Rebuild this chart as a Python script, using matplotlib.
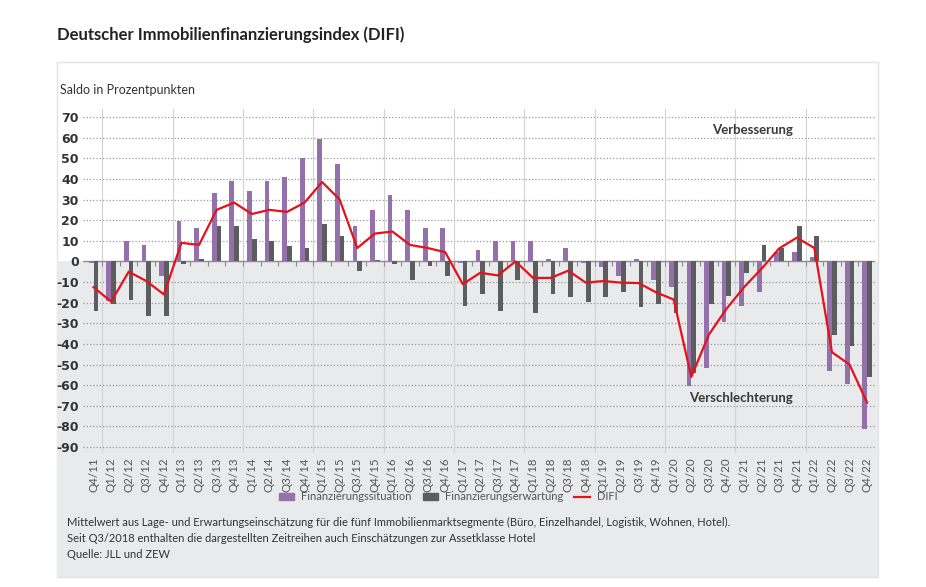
import matplotlib.pyplot as plt
import numpy as np
from matplotlib.patches import Rectangle
from matplotlib.lines import Line2D

plt.rcParams['font.family'] = ['Lato', 'DejaVu Sans']

# Quarters Q4/11 .. Q4/22
quarters = ['Q4/11'] + [f'Q{q}/{y}' for y in range(12, 23) for q in range(1, 5)]

situation = [-1, -19, 10, 8, -7, 19.5, 16, 33, 39, 34, 39, 41, 50, 59.5, 47, 17,
             25, 32, 25, 16, 16, -1, 5.5, 10, 10, 10, 1, 6.5, -1, -2.5, -7, 1,
             -9, -12.5, -60.5, -51.5, -29.5, -21.5, -15, 4.5, 4.5, 2, -53, -59.5, -81.5]
expectation = [-24, -20.5, -18.5, -26.5, -26.5, -1.3, 1, 17, 17, 11, 10, 7.5, 6.5, 18,
               12.5, -4.5, 0.8, -1.3, -9, -2, -7, -21.5, -16, -24, -9, -25, -16, -17.5,
               -19.5, -17.5, -15, -22, -20.5, -25, -54, -20.5, -17, -5.5, 8, 6.5, 17,
               12.5, -35.5, -41, -56]
difi = [-12.5, -19.5, -5, -9.5, -16, 9, 8, 25, 28.5, 23, 25, 24, 28.5, 38.5, 30, 6.5,
        13.5, 14.5, 8, 6.5, 4.5, -11, -5.5, -6.8, 0, -8, -8, -4.5, -10.3, -9.5, -10.3,
        -10.5, -15, -18.5, -56, -35.5, -23, -12.5, -3.5, 6.3, 11.5, 6.5, -44, -50, -68.5]
yticks = list(range(-90, 71, 10))

purple = '#9571ab'
dark = '#5b5d5f'
red = '#e5121c'
panel_gray = '#e9eaec'
text_col = '#333333'

fig = plt.figure(figsize=(9.26, 5.87), dpi=100)
W, H = 926, 587

def fx(px):
    return px / W

def fy(py):
    return 1 - py / H

ax = fig.add_axes([fx(83), fy(453), fx(875) - fx(83), (453 - 109) / H])
ax.set_facecolor('none')
ax.set_xlim(-0.6, 44.45)
ax.set_ylim(-92.9, 73.9)

x = np.arange(len(quarters))
w = 0.27
ax.bar(x - w / 2, situation, width=w, color=purple, zorder=3, label='Finanzierungssituation')
ax.bar(x + w / 2, expectation, width=w, color=dark, zorder=3, label='Finanzierungserwartung')
ax.plot(x, difi, color=red, lw=1.6, zorder=4, label='DIFI')

# grid
for v in yticks:
    if v != 0:
        ax.axhline(v, color='#9a9a9a', lw=0.9, ls=(0, (1, 1.6)), zorder=1)
ax.axhline(0, color='#8c8c8c', lw=1.0, zorder=2)
for b in np.arange(0.5, 44, 4):
    ax.axvline(b, color='#d2d2d2', lw=0.8, zorder=1)
ax.vlines(np.arange(0.5, 44, 1), -2.0, 0, color='#8c8c8c', lw=0.8, zorder=2)

ax.set_yticks(yticks)
ax.set_yticklabels([str(v) for v in yticks], fontsize=9, fontweight='bold',
                   color='#333333', family=['DejaVu Sans'])
ax.set_xticks(x)
ax.set_xticklabels(quarters, rotation=90, fontsize=8.3, color='#555555')
ax.tick_params(axis='both', length=0, pad=3)
for s in ax.spines.values():
    s.set_visible(False)

ax.text(37.46, 63.7, 'Verbesserung', ha='center', va='center', fontsize=9.5,
        fontweight='bold', color='#3a3a3a', zorder=5)
ax.text(36.83, -66.2, 'Verschlechterung', ha='center', va='center', fontsize=9.5,
        fontweight='bold', color='#3a3a3a', zorder=5)

# panel background: white above zero, gray below
fig.canvas.draw()
zero_fig = fig.transFigure.inverted().transform(ax.transData.transform((0, 0)))[1]
fig.add_artist(Rectangle((fx(57), fy(577)), fx(878) - fx(57), fy(62) - fy(577),
                         facecolor='white', edgecolor='#e2e2e2', lw=1.0, zorder=-2))
fig.add_artist(Rectangle((fx(57), fy(577)), fx(878) - fx(57), zero_fig - fy(577),
                         facecolor=panel_gray, edgecolor='none', zorder=-1))

fig.text(fx(57), fy(35), 'Deutscher Immobilienfinanzierungsindex (DIFI)',
         fontsize=12, fontweight='bold', color='#222222', va='center')
fig.text(fx(60), fy(90), 'Saldo in Prozentpunkten', fontsize=9, color=text_col, va='center')

handles = [Rectangle((0, 0), 1, 1, color=purple), Rectangle((0, 0), 1, 1, color=dark),
           Line2D([0], [0], color=red, lw=1.6)]
fig.legend(handles, ['Finanzierungssituation', 'Finanzierungserwartung', 'DIFI'],
           loc='center', bbox_to_anchor=(fx(448), fy(497)), ncol=3, frameon=False,
           fontsize=8, handlelength=1.4, handleheight=0.6, columnspacing=1.0,
           handletextpad=0.6, labelcolor='#555555')

notes = ('Mittelwert aus Lage- und Erwartungseinschätzung für die fünf Immobilienmarktsegmente '
         '(Büro, Einzelhandel, Logistik, Wohnen, Hotel).\n'
         'Seit Q3/2018 enthalten die dargestellten Zeitreihen auch Einschätzungen zur Assetklasse Hotel\n'
         'Quelle: JLL und ZEW')
fig.text(fx(67), fy(517), notes, fontsize=8, color=text_col, va='top', linespacing=1.55)

fig.savefig('out.png', dpi=100)
